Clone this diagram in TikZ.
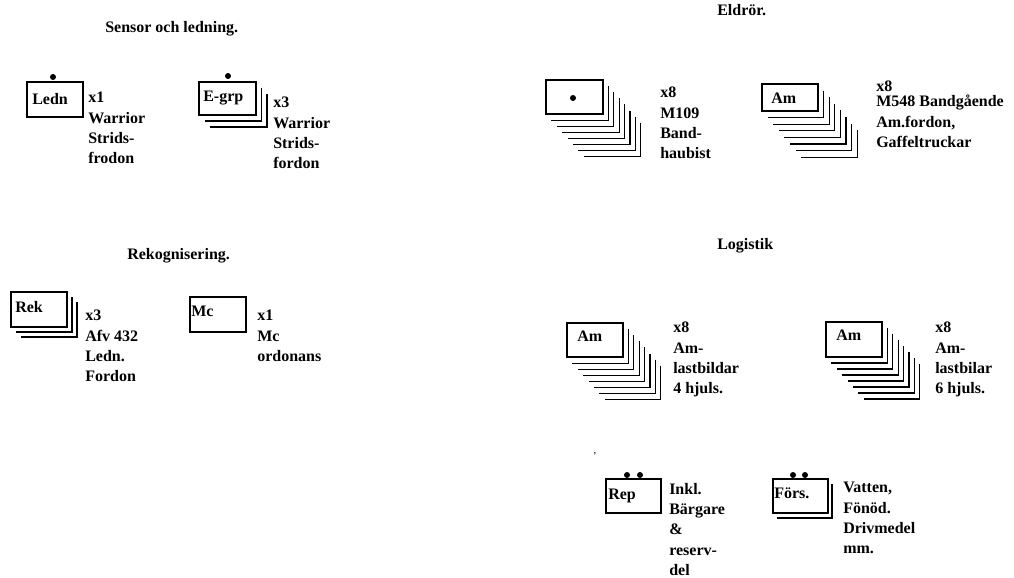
\documentclass[tikz,border=0pt]{standalone}
\usepackage{fontspec}
\setmainfont{Liberation Serif}
\newcommand\mystack[7]{%
  \foreach \k in {#5,...,1}{%
    \fill[white] ({#1+\k*#6},{#2+\k*#7}) rectangle ({#3+\k*#6},{#4+\k*#7});
    \draw[edgest] ({#3+\k*#6},{#2+\k*#7}) -- ({#3+\k*#6},{#4+\k*#7}) -- ({#1+\k*#6},{#4+\k*#7});}%
  \draw[boxst] (#1,#2) rectangle (#3,#4);}
\begin{document}
\begin{tikzpicture}[x=0.75pt,y=-0.75pt,
  lbl/.style={font=\bfseries\fontsize{12}{15.2}\selectfont, inner sep=0pt, anchor=base west},
  txt/.style={font=\bfseries\fontsize{12}{15.2}\selectfont, inner sep=0pt, anchor=north west, align=left},
  ttl/.style={font=\bfseries\fontsize{12}{15.2}\selectfont, inner sep=0pt, anchor=base west},
  boxst/.style={draw=black, fill=white, line width=0.9pt},
  edgest/.style={draw=black, line width=0.9pt},
  dotst/.style={fill=black}]
\useasboundingbox[fill=white] (0,0) rectangle (1014,578);

% titles
\node[ttl] (t-sensor) at (105,32) {Sensor och ledning.};
\node[ttl] (t-eld) at (717,15) {Eldrör.};
\node[ttl] (t-rek) at (127,259) {Rekognisering.};
\node[ttl] (t-log) at (717,249) {Logistik};

% boxes
\draw[boxst] (27,82) rectangle (83,117);
\mystack{199}{82}{256}{115}{2}{5.5}{6}
\mystack{546}{80}{603}{114}{7}{5.4}{6.1}
\mystack{762}{84}{818}{111}{7}{5.6}{6.6}
\mystack{11}{292}{67}{327}{2}{5}{5}
\draw[boxst] (190,297) rectangle (246,332);
\mystack{567}{323}{623}{357}{7}{5.4}{6.1}
\mystack{826}{322}{882}{357}{7}{5.4}{6}
\draw[boxst] (606,479) rectangle (661,513);
\mystack{773}{479}{828}{513}{1}{4}{5}

% dots
\fill[dotst] (53,77) circle (3);
\fill[dotst] (228,76) circle (3);
\fill[dotst] (573,98) circle (3);
\fill[dotst] (627,475) circle (3);
\fill[dotst] (640,475) circle (3);
\fill[dotst] (793,475) circle (3);
\fill[dotst] (805,475) circle (3);

% box labels
\node[lbl] (l-ledn) at (32,104) {Ledn};
\node[lbl] (l-egrp) at (203,101) {E-grp};
\node[lbl] (l-am1) at (771,103) {Am};
\node[lbl] (l-rek) at (15,312) {Rek};
\node[lbl] (l-mc) at (191,316) {Mc};
\node[lbl] (l-am2) at (577,341) {Am};
\node[lbl] (l-am3) at (836,340) {Am};
\node[lbl] (l-rep) at (608,499) {Rep};
\node[lbl] (l-fors) at (774,498) {Förs.};

% descriptions
\node[txt] (d-ledn) at (88,92) {x1\\Warrior\\Strids-\\frodon};
\node[txt] (d-egrp) at (273,97) {x3\\Warrior\\Strids-\\fordon};
\node[txt] (d-m109) at (660,87) {x8\\M109\\Band-\\haubist};
\node[txt] (d-m548) at (876,81) {x8\\[-4pt]M548 Bandgående\\Am.fordon,\\Gaffeltruckar};
\node[txt] (d-rek) at (85,310) {x3\\Afv 432\\Ledn.\\Fordon};
\node[txt] (d-mc) at (257,310) {x1\\Mc\\ordonans};
\node[txt] (d-am4) at (673,322) {x8\\Am-\\lastbildar\\4 hjuls.};
\node[txt] (d-am6) at (935,322) {x8\\Am-\\lastbilar\\6 hjuls.};
\node[txt] (d-rep) at (669,483) {Inkl.\\Bärgare\\\&\\reserv-\\del};
\node[txt] (d-fors) at (843,482) {Vatten,\\Fönöd.\\Drivmedel\\mm.};

% stray mark
\node[font=\fontsize{8}{8}\selectfont, inner sep=0pt, anchor=base] (stray) at (595,453) {,};
\end{tikzpicture}
\end{document}
